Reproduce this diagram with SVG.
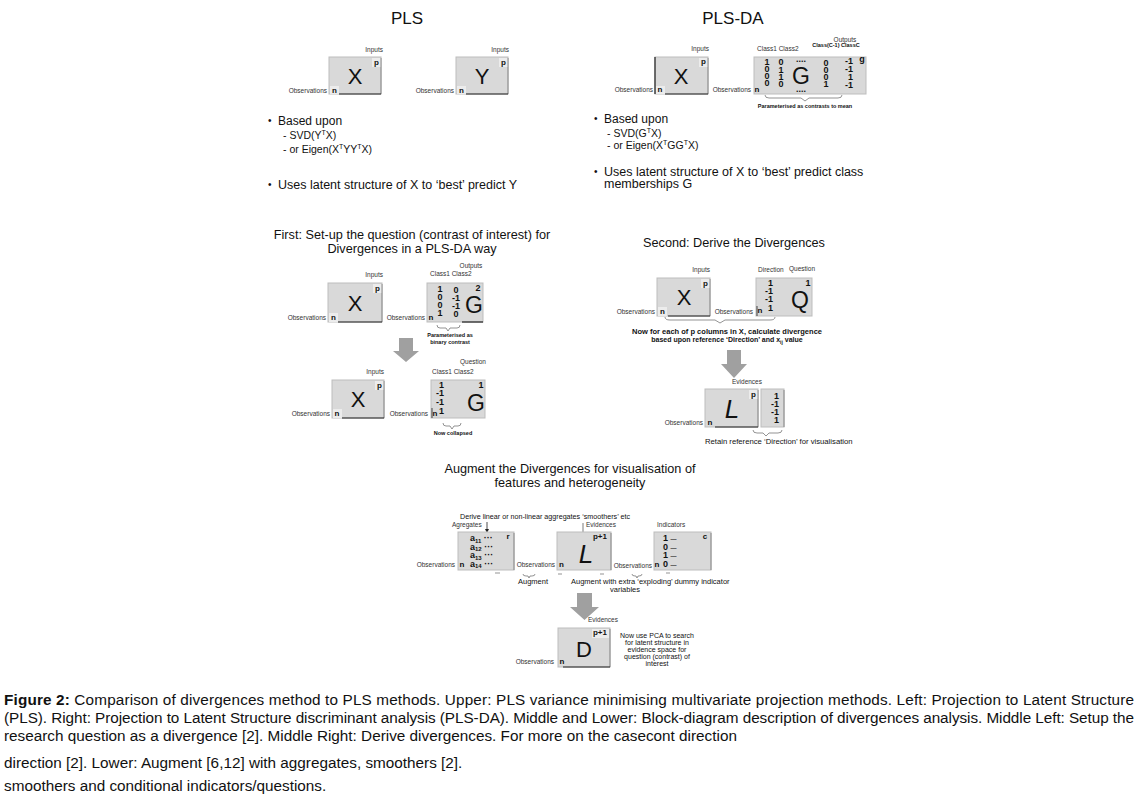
<svg xmlns="http://www.w3.org/2000/svg" width="1139" height="797" viewBox="0 0 1139 797">
<style>
text{font-family:"Liberation Sans",Arial,sans-serif;fill:#111}
.box{fill:#d9d9d9;stroke:#bdbdbd;stroke-width:1}
.pt{fill:#ececec}
.dk{fill:none;stroke:#222;stroke-width:1.2}
.rt{fill:none;stroke:#8a8a8a;stroke-width:1}
.lbl{font-size:6.5px;fill:#333}
.pn{font-size:8px;font-weight:bold}
.big{font-size:22px}
.bigG{font-size:23px}
.it{font-size:26px;font-style:italic}
.num{font-size:9px;font-weight:bold}
.ttl{font-size:17px}
.sub{font-size:12.7px}
.bul{font-size:10px}
.b1{font-size:12px}
.b2{font-size:10.5px}
.b3{font-size:12.5px}
.tiny{font-size:5.5px;font-weight:bold}
.note{font-size:7.5px}
.cap{font-size:15.3px}
.arr{fill:#a0a0a0}
.brace{fill:none;stroke:#666;stroke-width:0.7}
</style>

<text class="ttl" x="407" y="24" text-anchor="middle">PLS</text>
<text class="ttl" x="733" y="24" text-anchor="middle">PLS-DA</text>

<g id="pls-x">
<rect class="box" x="329" y="57" width="52" height="37"/>
<rect class="pt" x="372" y="58" width="9" height="9"/><rect class="pt" x="330" y="86" width="9" height="8"/>
<path class="rt" d="M381,58 V94"/><path class="dk" d="M339,94 H381"/>
<text class="lbl" x="383" y="52" text-anchor="end">Inputs</text>
<text class="pn" x="376.5" y="65" text-anchor="middle">p</text>
<text class="pn" x="334.5" y="93" text-anchor="middle">n</text>
<text class="lbl" x="327" y="93" text-anchor="end">Observations</text>
<text class="big" x="355" y="84" text-anchor="middle">X</text>
</g>

<g id="pls-y">
<rect class="box" x="456" y="57" width="52" height="37"/>
<rect class="pt" x="499" y="58" width="9" height="9"/><rect class="pt" x="457" y="86" width="9" height="8"/>
<path class="rt" d="M508,58 V94"/><path class="dk" d="M466,94 H508"/>
<text class="lbl" x="509" y="52" text-anchor="end">Inputs</text>
<text class="pn" x="503.5" y="65" text-anchor="middle">p</text>
<text class="pn" x="461.5" y="93" text-anchor="middle">n</text>
<text class="lbl" x="454" y="93" text-anchor="end">Observations</text>
<text class="big" x="482" y="84" text-anchor="middle">Y</text>
</g>

<g id="pls-text">
<text class="bul" x="268" y="124">•</text>
<text class="b1" x="278" y="125">Based upon</text>
<text class="b2" x="283" y="139">- SVD(Y<tspan font-size="7" dy="-4">T</tspan><tspan dy="4">X)</tspan></text>
<text class="b2" x="283" y="153">- or Eigen(X<tspan font-size="7" dy="-4">T</tspan><tspan dy="4">YY</tspan><tspan font-size="7" dy="-4">T</tspan><tspan dy="4">X)</tspan></text>
<text class="bul" x="268" y="188">•</text>
<text class="b3" x="278" y="189">Uses latent structure of X to ‘best’ predict Y</text>
</g>

<g id="plsda-x">
<rect class="box" x="655" y="57" width="53" height="37"/>
<rect class="pt" x="699" y="58" width="9" height="9"/><rect class="pt" x="656" y="86" width="9" height="8"/>
<path class="rt" d="M708,58 V94"/><path class="dk" d="M655,57 V94 M665,94 H708"/>
<text class="lbl" x="709" y="51" text-anchor="end">Inputs</text>
<text class="pn" x="703.5" y="64" text-anchor="middle">p</text>
<text class="pn" x="660" y="92" text-anchor="middle">n</text>
<text class="lbl" x="653" y="92" text-anchor="end">Observations</text>
<text class="big" x="681" y="84" text-anchor="middle">X</text>
</g>

<g id="plsda-g">
<rect class="box" x="754" y="57" width="112" height="37"/>
<text class="lbl" x="757" y="51">Class1 Class2</text>
<text class="lbl" x="845" y="42" text-anchor="middle">Outputs</text>
<text class="tiny" x="836" y="47" text-anchor="middle">Class(C-1) ClassC</text>
<text class="num" x="767" y="65" text-anchor="middle">1</text>
<text class="num" x="767" y="72" text-anchor="middle">0</text>
<text class="num" x="767" y="79" text-anchor="middle">0</text>
<text class="num" x="767" y="86" text-anchor="middle">0</text>
<text class="num" x="781" y="65" text-anchor="middle">0</text>
<text class="num" x="781" y="73" text-anchor="middle">1</text>
<text class="num" x="781" y="80" text-anchor="middle">1</text>
<text class="num" x="781" y="87" text-anchor="middle">0</text>
<text class="num" x="801" y="62" text-anchor="middle">....</text>
<text class="num" x="801" y="92" text-anchor="middle">....</text>
<text class="bigG" x="801" y="84" text-anchor="middle">G</text>
<text class="num" x="826" y="66" text-anchor="middle">0</text>
<text class="num" x="826" y="73" text-anchor="middle">0</text>
<text class="num" x="826" y="80" text-anchor="middle">0</text>
<text class="num" x="826" y="87" text-anchor="middle">1</text>
<text class="num" x="853" y="64" text-anchor="end">-1</text>
<text class="num" x="853" y="72" text-anchor="end">-1</text>
<text class="num" x="853" y="80" text-anchor="end">1</text>
<text class="num" x="853" y="88" text-anchor="end">-1</text>
<text class="num" x="862" y="62" text-anchor="middle">g</text>
<text class="pn" x="757" y="92" text-anchor="middle">n</text>
<text class="lbl" x="751" y="92" text-anchor="end">Observations</text>
<path class="brace" d="M765,95 q0,3 4,3 h32 l4,3 l4,-3 h29 q4,0 4,-3"/>
<text class="tiny" x="805" y="108" text-anchor="middle">Parameterised as contrasts to mean</text>
</g>

<g id="plsda-text">
<text class="bul" x="594" y="122">•</text>
<text class="b1" x="604" y="123">Based upon</text>
<text class="b2" x="607" y="137">- SVD(G<tspan font-size="7" dy="-4">T</tspan><tspan dy="4">X)</tspan></text>
<text class="b2" x="607" y="149">- or Eigen(X<tspan font-size="7" dy="-4">T</tspan><tspan dy="4">GG</tspan><tspan font-size="7" dy="-4">T</tspan><tspan dy="4">X)</tspan></text>
<text class="bul" x="594" y="175">•</text>
<text class="b3" x="604" y="176">Uses latent structure of X to ‘best’ predict class</text>
<text class="b3" x="604" y="188">memberships G</text>
</g>

<text class="sub" x="412" y="239" text-anchor="middle">First: Set-up the question (contrast of interest) for</text>
<text class="sub" x="412" y="253" text-anchor="middle">Divergences in a PLS-DA way</text>

<g id="ml-x">
<rect class="box" x="328" y="283" width="54" height="39"/>
<rect class="pt" x="373" y="284" width="9" height="9"/><rect class="pt" x="329" y="313" width="9" height="9"/>
<path class="rt" d="M382,284 V322"/><path class="dk" d="M338,322 H382"/>
<text class="lbl" x="383" y="277" text-anchor="end">Inputs</text>
<text class="pn" x="377.5" y="291" text-anchor="middle">p</text>
<text class="pn" x="333.5" y="320" text-anchor="middle">n</text>
<text class="lbl" x="326" y="320" text-anchor="end">Observations</text>
<text class="big" x="355" y="311" text-anchor="middle">X</text>
</g>

<g id="ml-g">
<rect class="box" x="427" y="283" width="56" height="39"/>
<path class="dk" d="M462,322 H483"/>
<text class="lbl" x="430" y="276">Class1 Class2</text>
<text class="lbl" x="471" y="268" text-anchor="middle">Outputs</text>
<text class="num" x="440" y="292" text-anchor="middle">1</text>
<text class="num" x="440" y="300" text-anchor="middle">0</text>
<text class="num" x="440" y="308" text-anchor="middle">0</text>
<text class="num" x="440" y="316" text-anchor="middle">1</text>
<text class="num" x="456" y="293" text-anchor="middle">0</text>
<text class="num" x="456" y="301" text-anchor="middle">-1</text>
<text class="num" x="456" y="309" text-anchor="middle">-1</text>
<text class="num" x="456" y="317" text-anchor="middle">0</text>
<text class="num" x="478" y="291" text-anchor="middle">2</text>
<text class="bigG" x="474" y="313" text-anchor="middle">G</text>
<text class="pn" x="431" y="320" text-anchor="middle">n</text>
<text class="lbl" x="425" y="320" text-anchor="end">Observations</text>
<path class="brace" d="M437,325 q0,3 3,3 h6 l2,3 l2,-3 h7 q3,0 3,-3"/>
<text class="tiny" x="450" y="337" text-anchor="middle">Parameterised as</text>
<text class="tiny" x="450" y="344" text-anchor="middle">binary contrast</text>
</g>

<g id="ml-x2">
<rect class="box" x="332" y="380" width="52" height="38"/>
<rect class="pt" x="375" y="381" width="9" height="9"/><rect class="pt" x="333" y="409" width="9" height="9"/>
<path class="rt" d="M384,381 V418"/><path class="dk" d="M342,418 H384"/>
<text class="lbl" x="384" y="374" text-anchor="end">Inputs</text>
<text class="pn" x="379.5" y="388" text-anchor="middle">p</text>
<text class="pn" x="337" y="416" text-anchor="middle">n</text>
<text class="lbl" x="330" y="416" text-anchor="end">Observations</text>
<text class="big" x="358" y="407" text-anchor="middle">X</text>
</g>

<g id="ml-g2">
<rect class="box" x="431" y="380" width="54" height="38"/>
<path d="M432,408 V418" stroke="#222" stroke-width="0.8"/>
<text class="lbl" x="486" y="364" text-anchor="end">Question</text>
<text class="lbl" x="432" y="374">Class1 Class2</text>
<text class="num" x="444" y="388" text-anchor="end">1</text>
<text class="num" x="444" y="396" text-anchor="end">-1</text>
<text class="num" x="444" y="405" text-anchor="end">-1</text>
<text class="num" x="444" y="414" text-anchor="end">1</text>
<text class="num" x="481" y="388" text-anchor="middle">1</text>
<text class="bigG" x="476" y="411" text-anchor="middle">G</text>
<text class="pn" x="435" y="416" text-anchor="middle">n</text>
<text class="lbl" x="428" y="416" text-anchor="end">Observations</text>
<path class="brace" d="M443,423 q0,3 3,3 h4 l2,3 l2,-3 h4 q3,0 3,-3"/>
<text class="tiny" x="453" y="435" text-anchor="middle">Now collapsed</text>
</g>

<text class="sub" x="734" y="247" text-anchor="middle">Second: Derive the Divergences</text>

<g id="mr-x">
<rect class="box" x="657" y="278" width="53" height="38"/>
<rect class="pt" x="701" y="279" width="9" height="9"/><rect class="pt" x="658" y="307" width="9" height="9"/>
<path class="rt" d="M710,279 V316"/><path class="dk" d="M668,316 H710"/>
<text class="lbl" x="710" y="272" text-anchor="end">Inputs</text>
<text class="pn" x="705.5" y="286" text-anchor="middle">p</text>
<text class="pn" x="662.5" y="314" text-anchor="middle">n</text>
<text class="lbl" x="655" y="314" text-anchor="end">Observations</text>
<text class="big" x="684" y="305" text-anchor="middle">X</text>
</g>

<g id="mr-q">
<rect class="box" x="756" y="278" width="56" height="38"/>
<path d="M757,306 V316" stroke="#222" stroke-width="0.8"/>
<text class="lbl" x="758" y="272">Direction</text>
<text class="lbl" x="789" y="271">Question</text>
<text class="num" x="773" y="286" text-anchor="end">1</text>
<text class="num" x="773" y="294" text-anchor="end">-1</text>
<text class="num" x="773" y="302" text-anchor="end">-1</text>
<text class="num" x="773" y="311" text-anchor="end">1</text>
<text class="num" x="808" y="286" text-anchor="middle">1</text>
<text class="bigG" x="800" y="308" text-anchor="middle">Q</text>
<text class="pn" x="760" y="313" text-anchor="middle">n</text>
<text class="lbl" x="753" y="314" text-anchor="end">Observations</text>
<path class="brace" d="M665,317 q0,3 5,3 h45 l5,3 l5,-3 h45 q5,0 5,-3"/>
<text x="727" y="334" font-size="7" font-weight="bold" text-anchor="middle" textLength="190" lengthAdjust="spacingAndGlyphs">Now for each of p columns in X, calculate divergence</text>
<text x="727" y="342" font-size="7" font-weight="bold" text-anchor="middle">based upon reference ‘Direction’ and x<tspan font-size="5" dy="2">ij</tspan><tspan dy="-2"> value</tspan></text>
</g>

<g id="mr-l">
<rect class="box" x="705" y="389" width="53" height="38"/>
<rect class="pt" x="749" y="390" width="9" height="9"/>
<path class="rt" d="M758,390 V427"/><path class="dk" d="M715,427 H758"/>
<text class="lbl" x="747" y="384" text-anchor="middle">Evidences</text>
<text class="pn" x="753.5" y="397" text-anchor="middle">p</text>
<text class="pn" x="710" y="425" text-anchor="middle">n</text>
<text class="lbl" x="703" y="425" text-anchor="end">Observations</text>
<text class="it" x="732" y="418" text-anchor="middle">L</text>
<rect class="box" x="761" y="389" width="23" height="38"/>
<path class="rt" d="M784,390 V427"/>
<text class="num" x="779" y="399" text-anchor="end">1</text>
<text class="num" x="779" y="407" text-anchor="end">-1</text>
<text class="num" x="779" y="415" text-anchor="end">-1</text>
<text class="num" x="779" y="423" text-anchor="end">1</text>
<path class="brace" d="M753,430 q0,3 4,3 h6 l3,3 l3,-3 h9 q4,0 4,-3"/>
<text x="705" y="444" font-size="7.7">Retain reference ‘Direction’ for visualisation</text>
</g>

<text class="sub" x="570" y="473" text-anchor="middle">Augment the Divergences for visualisation of</text>
<text class="sub" x="570" y="487" text-anchor="middle">features and heterogeneity</text>

<g id="lo-agg">
<text x="460" y="519" font-size="7.5" textLength="170" lengthAdjust="spacingAndGlyphs">Derive linear or non-linear aggregates ‘smoothers’ etc</text>
<text class="lbl" x="452" y="527">Agregates</text>
<path d="M487,522 V531" stroke="#222" stroke-width="0.8"/><path d="M485,529 L487,533 L489,529 Z" fill="#222"/>
<rect class="box" x="458" y="532" width="56" height="38"/>
<path class="rt" d="M514,533 V570"/>
<text class="pn" x="508" y="539" text-anchor="middle">r</text>
<text class="num" x="470" y="541">a<tspan font-size="6" dy="1.5">11</tspan><tspan dy="-1.5"> ···</tspan></text>
<text class="num" x="470" y="549.5">a<tspan font-size="6" dy="1.5">12</tspan><tspan dy="-1.5"> ···</tspan></text>
<text class="num" x="470" y="558">a<tspan font-size="6" dy="1.5">13</tspan><tspan dy="-1.5"> ···</tspan></text>
<text class="num" x="470" y="566.5">a<tspan font-size="6" dy="1.5">14</tspan><tspan dy="-1.5"> ···</tspan></text>
<text class="pn" x="462" y="567" text-anchor="middle">n</text>
<text class="lbl" x="455" y="567" text-anchor="end">Observations</text>
</g>

<g id="lo-l">
<text class="lbl" x="586" y="527">Evidences</text>
<path d="M583,523 V532" stroke="#444" stroke-width="0.7"/>
<rect class="box" x="557" y="532" width="54" height="38"/>
<path class="rt" d="M611,533 V570"/>
<text class="pn" x="600" y="539" text-anchor="middle">p+1</text>
<text class="it" x="586" y="563" text-anchor="middle">L</text>
<text class="pn" x="561.5" y="567" text-anchor="middle">n</text>
<text class="lbl" x="555" y="567" text-anchor="end">Observations</text>
</g>

<g id="lo-ind">
<text class="lbl" x="657" y="527">Indicators</text>
<rect class="box" x="654" y="532" width="57" height="38"/>
<path class="rt" d="M711,533 V570"/>
<text class="pn" x="705" y="539" text-anchor="middle">c</text>
<text class="num" x="663" y="541">1 <tspan font-size="6">—</tspan></text>
<text class="num" x="663" y="549.5">0 <tspan font-size="6">—</tspan></text>
<text class="num" x="663" y="558">1 <tspan font-size="6">—</tspan></text>
<text class="num" x="663" y="566.5">0 <tspan font-size="6">—</tspan></text>
<text class="pn" x="657" y="567" text-anchor="middle">n</text>
<text class="lbl" x="652" y="568" text-anchor="end">Observations</text>
</g>

<g id="connectors">
<path class="arr" d="M399,338 H413 V351 H419 L406,362 L393,351 H399 Z"/>
<path class="arr" d="M727,350 H741 V364 H747 L734,378 L721,364 H727 Z"/>
<path class="arr" d="M577,593 H592 V607 H599 L584.5,620 L570,607 H577 Z"/>
<path class="brace" d="M495,573 h5 M523,574 q0,2 3,2 h2 l1,2 l1,-2 h2 q3,0 3,-2 M558,574 h4 M600,574 h4 M632,574 q0,2 3,2 h1 l1,2 l1,-2 h1 q3,0 3,-2 M666,573 h4"/>
</g>

<text class="note" x="518" y="584">Augment</text>
<text class="note" x="571" y="584">Augment with extra ‘exploding’ dummy indicator</text>
<text class="note" x="625" y="592" text-anchor="middle">variables</text>

<g id="lo-d">
<text class="lbl" x="588" y="622">Evidences</text>
<rect class="box" x="558" y="628" width="52" height="39"/>
<rect class="pt" x="592" y="629" width="17" height="9"/>
<path class="rt" d="M610,629 V667"/><path class="dk" d="M563,667 H610"/>
<text class="pn" x="600" y="635" text-anchor="middle">p+1</text>
<text class="big" x="584" y="657" text-anchor="middle">D</text>
<text class="pn" x="562" y="664" text-anchor="middle">n</text>
<text class="lbl" x="554" y="664" text-anchor="end">Observations</text>
</g>
<text x="657" y="638" font-size="7" text-anchor="middle">Now use PCA to search</text>
<text x="657" y="645" font-size="7" text-anchor="middle">for latent structure in</text>
<text x="657" y="652" font-size="7" text-anchor="middle">evidence space for</text>
<text x="657" y="659" font-size="7" text-anchor="middle">question (contrast) of</text>
<text x="657" y="666" font-size="7" text-anchor="middle">interest</text>

<g id="caption">
<text class="cap" x="4" y="705" textLength="1130" lengthAdjust="spacing"><tspan font-weight="bold">Figure 2:</tspan> Comparison of divergences method to PLS methods. Upper: PLS variance minimising multivariate projection methods. Left: Projection to Latent Structure</text>
<text class="cap" x="4" y="723" textLength="1130" lengthAdjust="spacing">(PLS). Right: Projection to Latent Structure discriminant analysis (PLS-DA). Middle and Lower: Block-diagram description of divergences analysis. Middle Left: Setup the</text>
<text class="cap" x="4" y="741">research question as a divergence [2]. Middle Right: Derive divergences. For more on the casecont direction</text>
<text class="cap" x="4" y="768">direction [2]. Lower: Augment [6,12] with aggregates, smoothers [2].</text>
<text class="cap" x="4" y="791">smoothers and conditional indicators/questions.</text>
</g>
</svg>
